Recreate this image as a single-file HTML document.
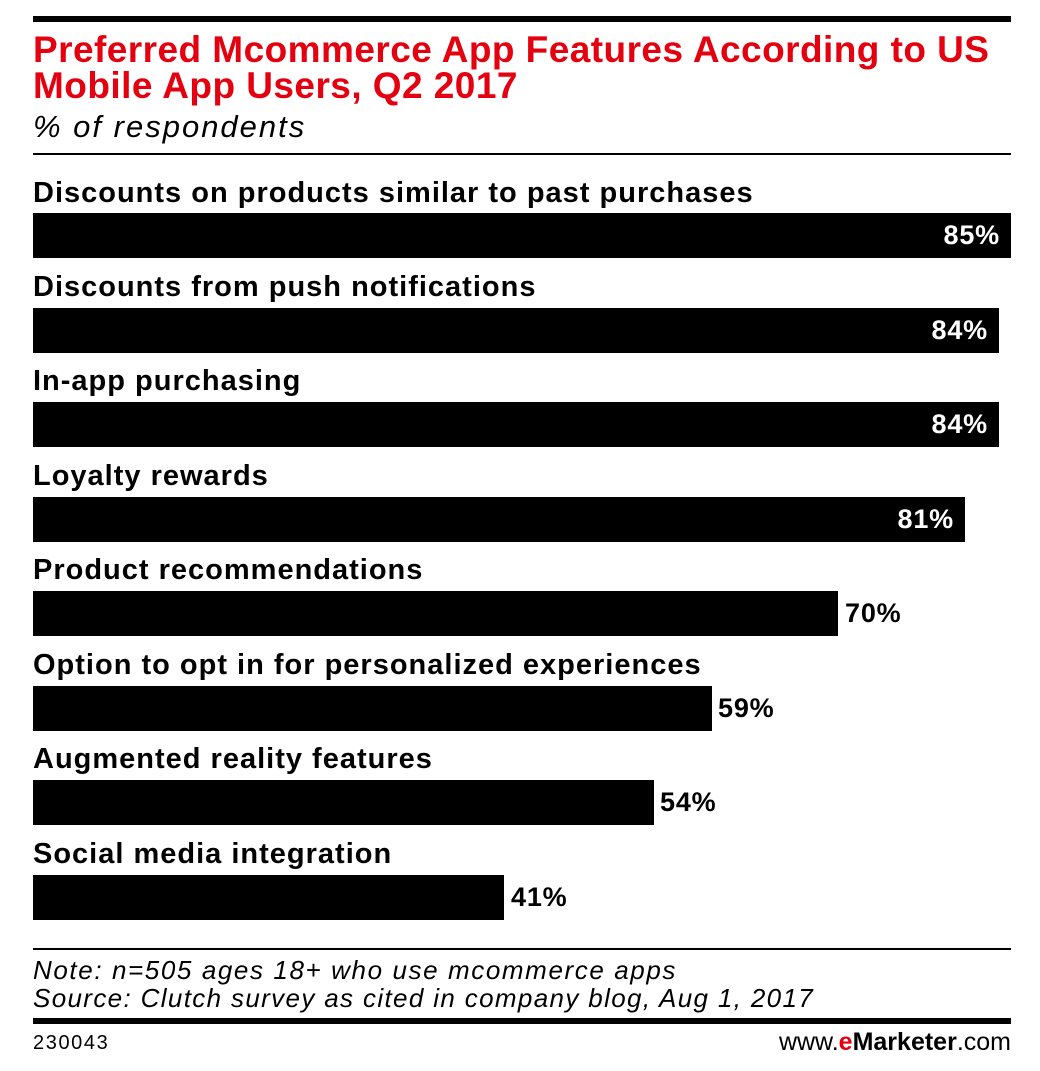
<!DOCTYPE html>
<html><head><style>
body{margin:0;width:1040px;height:1071px;background:#fff;position:relative;overflow:hidden;font-family:"Liberation Sans",sans-serif}
div{position:absolute}
.t{left:33px;color:#e4000f;font-weight:bold;font-size:37px;line-height:37px;white-space:nowrap;letter-spacing:0.45px}
.lab{left:33px;font-weight:bold;font-size:29px;white-space:nowrap;line-height:30px;letter-spacing:1px}
.bar{left:33px;height:45px;background:#000}
.v{font-weight:bold;font-size:27px;line-height:45px;letter-spacing:0.8px}
.in{color:#fff;text-align:right}
.it{left:33px;font-style:italic;font-size:26px;line-height:28px;white-space:nowrap;letter-spacing:1.5px}
</style></head><body>
<div style="left:33px;top:16px;width:978px;height:6px;background:#000"></div>
<div class="t" style="top:31px">Preferred Mcommerce App Features According to US</div>
<div class="t" style="top:67px">Mobile App Users, Q2 2017</div>
<div class="it" style="top:110px;font-size:31px;line-height:34px;letter-spacing:2px">% of respondents</div>
<div style="left:33px;top:153px;width:978px;height:2px;background:#000"></div>

<div class="lab" style="top:178px">Discounts on products similar to past purchases</div>
<div class="bar" style="top:213px;width:978px"><div class="v in" style="right:11px;top:0">85%</div></div>
<div class="lab" style="top:272px">Discounts from push notifications</div>
<div class="bar" style="top:308px;width:966px"><div class="v in" style="right:11px;top:0">84%</div></div>
<div class="lab" style="top:366px">In-app purchasing</div>
<div class="bar" style="top:402px;width:966px"><div class="v in" style="right:11px;top:0">84%</div></div>
<div class="lab" style="top:461px">Loyalty rewards</div>
<div class="bar" style="top:497px;width:932px"><div class="v in" style="right:11px;top:0">81%</div></div>
<div class="lab" style="top:555px">Product recommendations</div>
<div class="bar" style="top:591px;width:805px"></div><div class="v" style="left:845px;top:591px">70%</div>
<div class="lab" style="top:650px">Option to opt in for personalized experiences</div>
<div class="bar" style="top:686px;width:679px"></div><div class="v" style="left:718px;top:686px">59%</div>
<div class="lab" style="top:744px">Augmented reality features</div>
<div class="bar" style="top:780px;width:621px"></div><div class="v" style="left:660px;top:780px">54%</div>
<div class="lab" style="top:839px">Social media integration</div>
<div class="bar" style="top:875px;width:471px"></div><div class="v" style="left:511px;top:875px">41%</div>

<div style="left:33px;top:948px;width:978px;height:2px;background:#000"></div>
<div class="it" style="top:956px;letter-spacing:1.6px">Note: n=505 ages 18+ who use mcommerce apps</div>
<div class="it" style="top:984px;letter-spacing:1.35px">Source: Clutch survey as cited in company blog, Aug 1, 2017</div>
<div style="left:33px;top:1018px;width:978px;height:6px;background:#000"></div>
<div style="left:33px;top:1031px;font-size:20px;line-height:24px;letter-spacing:1.6px">230043</div>
<div style="right:29px;top:1027px;font-size:25px;line-height:30px">www.<b style="color:#e4000f">e</b><b>Marketer</b>.com</div>
</body></html>
